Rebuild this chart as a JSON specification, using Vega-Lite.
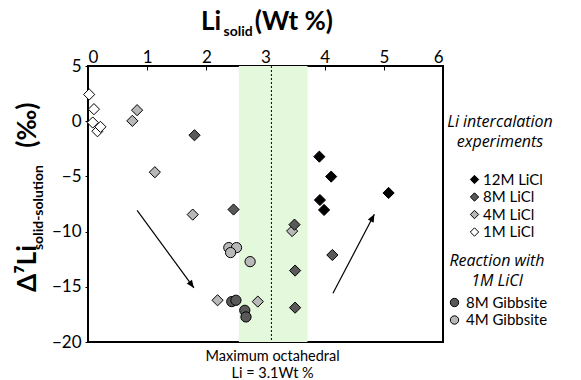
{
  "$schema": "https://vega.github.io/schema/vega-lite/v6.json",
  "width": 355,
  "height": 276,
  "autosize": {"type": "none"},
  "padding": {"left": 88, "top": 66, "right": 138, "bottom": 38},
  "background": "white",
  "config": {
    "font": "Lato",
    "view": {"stroke": "black", "strokeWidth": 2},
    "axis": {"grid": false, "labelFont": "Lato", "labelFontSize": 17, "labelColor": "black", "domainColor": "black", "domainWidth": 2, "tickColor": "black"},
    "legend": {"labelFont": "Lato", "labelFontSize": 15, "labelColor": "black", "titleFont": "Open Sans", "titleFontSize": 16, "titleFontWeight": "normal", "titleFontStyle": "italic", "titleColor": "black", "titleAlign": "center", "titleAnchor": "middle", "titleLineHeight": 20, "rowPadding": 1.5, "symbolSize": 70, "symbolStrokeColor": "black", "symbolStrokeWidth": 1, "labelOffset": 4}
  },
  "datasets": {
    "points": [
      {"li": 0.02, "d7": 2.42, "series": "1M LiCl"},
      {"li": 0.10, "d7": 1.09, "series": "1M LiCl"},
      {"li": 0.16, "d7": -0.91, "series": "1M LiCl"},
      {"li": 0.08, "d7": -0.12, "series": "1M LiCl"},
      {"li": 0.21, "d7": -0.51, "series": "1M LiCl"},
      {"li": 0.75, "d7": 0.03, "series": "4M LiCl"},
      {"li": 0.83, "d7": 1.0, "series": "4M LiCl"},
      {"li": 1.13, "d7": -4.62, "series": "4M LiCl"},
      {"li": 1.77, "d7": -8.46, "series": "4M LiCl"},
      {"li": 2.19, "d7": -16.22, "series": "4M LiCl"},
      {"li": 2.87, "d7": -16.34, "series": "4M LiCl"},
      {"li": 3.45, "d7": -9.95, "series": "4M LiCl"},
      {"li": 1.80, "d7": -1.27, "series": "8M LiCl"},
      {"li": 2.46, "d7": -8.0, "series": "8M LiCl"},
      {"li": 3.49, "d7": -9.37, "series": "8M LiCl"},
      {"li": 3.50, "d7": -13.53, "series": "8M LiCl"},
      {"li": 3.50, "d7": -16.89, "series": "8M LiCl"},
      {"li": 4.13, "d7": -12.12, "series": "8M LiCl"},
      {"li": 3.91, "d7": -3.21, "series": "12M LiCl"},
      {"li": 4.11, "d7": -5.02, "series": "12M LiCl"},
      {"li": 3.92, "d7": -7.14, "series": "12M LiCl"},
      {"li": 3.99, "d7": -8.04, "series": "12M LiCl"},
      {"li": 5.08, "d7": -6.5, "series": "12M LiCl"}
    ],
    "gibbsite": [
      {"li": 2.43, "d7": -16.34, "series": "8M Gibbsite"},
      {"li": 2.50, "d7": -16.22, "series": "8M Gibbsite"},
      {"li": 2.65, "d7": -17.13, "series": "8M Gibbsite"},
      {"li": 2.67, "d7": -17.73, "series": "8M Gibbsite"},
      {"li": 2.38, "d7": -11.45, "series": "4M Gibbsite"},
      {"li": 2.51, "d7": -11.45, "series": "4M Gibbsite"},
      {"li": 2.41, "d7": -11.9, "series": "4M Gibbsite"},
      {"li": 2.74, "d7": -12.72, "series": "4M Gibbsite"}
    ],
    "band": [{"lo": 2.55, "hi": 3.71}],
    "octa": [{"li": 3.1}],
    "arrows": [
      {"id": "down", "x0": 0.83, "y0": -8.07, "x1": 1.79, "y1": -15.1},
      {"id": "up", "x0": 4.14, "y0": -15.59, "x1": 4.84, "y1": -8.43}
    ]
  },
  "layer": [
    {
      "data": {"name": "band"},
      "mark": {"type": "rect", "color": "#e4f8dc"},
      "encoding": {
        "x": {"field": "lo", "type": "quantitative", "scale": {"domain": [0, 6], "nice": false}, "axis": {"orient": "top", "values": [0,1,2,3,4,5,6], "format": "d", "tickSize": -4, "labelPadding": 4, "title": null, "domain": false}},
        "x2": {"field": "hi"}
      }
    },
    {
      "data": {"name": "octa"},
      "mark": {"type": "rule", "color": "black", "strokeDash": [2, 2], "strokeWidth": 1},
      "encoding": {"x": {"field": "li", "type": "quantitative"}}
    },
    {
      "data": {"name": "arrows"},
      "mark": {"type": "rule", "color": "black", "strokeWidth": 1.2},
      "encoding": {
        "x": {"field": "x0", "type": "quantitative"},
        "y": {"field": "y0", "type": "quantitative", "scale": {"domain": [-20, 5], "nice": false}, "axis": {"values": [-20,-15,-10,-5,0,5], "tickSize": 3, "labelPadding": 4, "title": null, "domain": false}},
        "x2": {"field": "x1"},
        "y2": {"field": "y1"}
      }
    },
    {
      "data": {"name": "arrows"},
      "transform": [{"filter": "datum.id == 'down'"}],
      "mark": {"type": "point", "shape": "M0,0 L-0.42,1 L0.42,1 Z", "filled": true, "color": "black", "opacity": 1, "size": 240, "angle": 143.8},
      "encoding": {"x": {"field": "x1", "type": "quantitative"}, "y": {"field": "y1", "type": "quantitative"}}
    },
    {
      "data": {"name": "arrows"},
      "transform": [{"filter": "datum.id == 'up'"}],
      "mark": {"type": "point", "shape": "M0,0 L-0.42,1 L0.42,1 Z", "filled": true, "color": "black", "opacity": 1, "size": 240, "angle": 27.7},
      "encoding": {"x": {"field": "x1", "type": "quantitative"}, "y": {"field": "y1", "type": "quantitative"}}
    },
    {
      "data": {"name": "points"},
      "mark": {"type": "point", "shape": "diamond", "filled": true, "opacity": 1, "stroke": "black", "strokeWidth": 1, "size": 125},
      "encoding": {
        "x": {"field": "li", "type": "quantitative"},
        "y": {"field": "d7", "type": "quantitative"},
        "fill": {"field": "series", "type": "nominal", "scale": {"domain": ["12M LiCl", "8M LiCl", "4M LiCl", "1M LiCl"], "range": ["#000000", "#595959", "#b8b8b8", "#ffffff"]}, "legend": {"title": ["Li intercalation", "experiments"], "titleFontWeight": "normal", "titlePadding": 22, "symbolOffset": 10, "labelOffset": 1, "orient": "none", "legendX": 359, "legendY": 48, "symbolType": "diamond"}}
      }
    },
    {
      "data": {"name": "gibbsite"},
      "mark": {"type": "point", "shape": "circle", "filled": true, "opacity": 1, "stroke": "black", "strokeWidth": 1, "size": 105},
      "encoding": {
        "x": {"field": "li", "type": "quantitative"},
        "y": {"field": "d7", "type": "quantitative"},
        "fill": {"field": "series", "type": "nominal", "scale": {"domain": ["8M Gibbsite", "4M Gibbsite"], "range": ["#595959", "#b8b8b8"]}, "legend": {"title": ["Reaction with", "1M LiCl"], "titleFontWeight": "normal", "titlePadding": 6, "orient": "none", "legendX": 359, "legendY": 187, "symbolType": "circle"}}
      }
    },
    {
      "data": {"values": [{"t": "Li"}]},
      "mark": {"type": "text", "align": "left", "baseline": "alphabetic", "fontSize": 26, "fontWeight": "bold", "dy": -36, "color": "black"},
      "encoding": {"x": {"datum": 1.91}, "y": {"datum": 5}, "text": {"field": "t"}}
    },
    {
      "data": {"values": [{"t": "solid"}]},
      "mark": {"type": "text", "align": "left", "baseline": "alphabetic", "fontSize": 14, "fontWeight": "bold", "dy": -30, "color": "black"},
      "encoding": {"x": {"datum": 2.29}, "y": {"datum": 5}, "text": {"field": "t"}}
    },
    {
      "data": {"values": [{"t": "(Wt %)"}]},
      "mark": {"type": "text", "align": "left", "baseline": "alphabetic", "fontSize": 26, "fontWeight": "bold", "dy": -36, "color": "black"},
      "encoding": {"x": {"datum": 2.82}, "y": {"datum": 5}, "text": {"field": "t"}}
    },
    {
      "data": {"values": [{"t": "Δ⁷Li"}]},
      "mark": {"type": "text", "align": "left", "baseline": "alphabetic", "angle": 270, "fontSize": 26, "fontWeight": "bold", "dy": -52, "color": "black"},
      "encoding": {"x": {"datum": 0}, "y": {"datum": -15.47}, "text": {"field": "t"}}
    },
    {
      "data": {"values": [{"t": "solid-solution"}]},
      "mark": {"type": "text", "align": "left", "baseline": "alphabetic", "angle": 270, "fontSize": 14, "fontWeight": "bold", "dy": -45, "color": "black"},
      "encoding": {"x": {"datum": 0}, "y": {"datum": -11.67}, "text": {"field": "t"}}
    },
    {
      "data": {"values": [{"t": "(‰)"}]},
      "mark": {"type": "text", "align": "left", "baseline": "alphabetic", "angle": 270, "fontSize": 26, "fontWeight": "bold", "dy": -52, "color": "black"},
      "encoding": {"x": {"datum": 0}, "y": {"datum": -2.4}, "text": {"field": "t"}}
    },
    {
      "data": {"values": [{"t": ["Maximum octahedral", "Li = 3.1Wt %"]}]},
      "mark": {"type": "text", "align": "center", "baseline": "top", "fontSize": 14.5, "lineHeight": 17, "dy": 8, "color": "black"},
      "encoding": {"x": {"datum": 3.12}, "y": {"datum": -20}, "text": {"field": "t"}}
    }
  ],
  "resolve": {"scale": {"fill": "independent"}}
}
